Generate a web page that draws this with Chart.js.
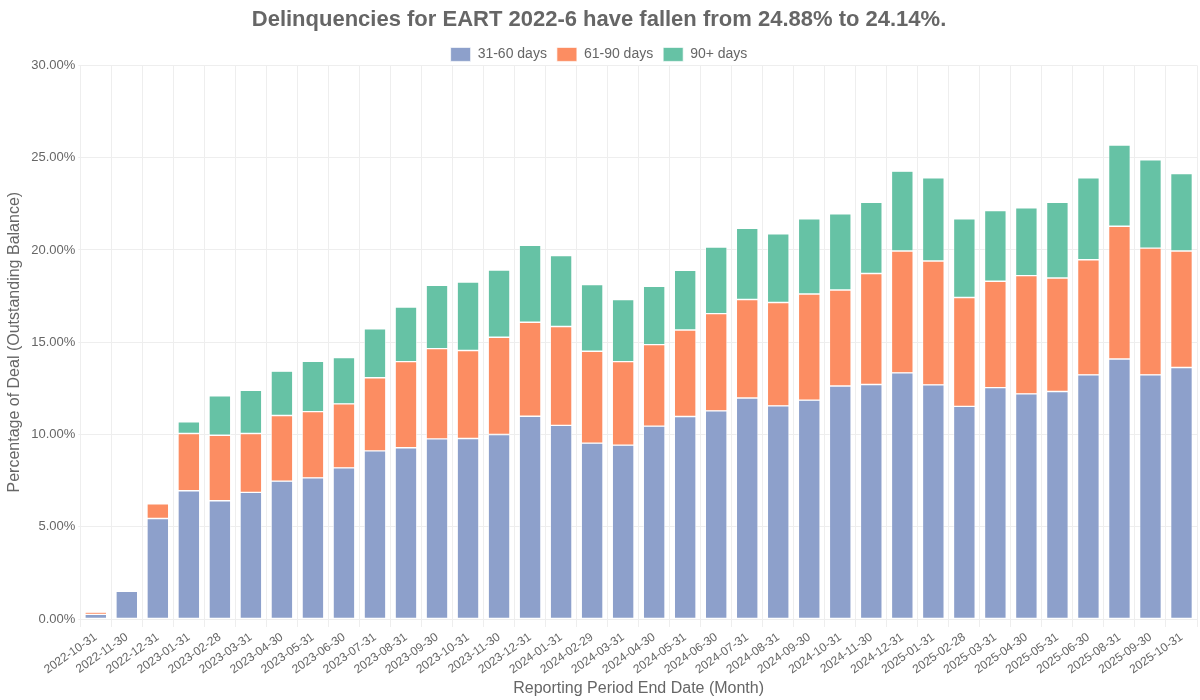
<!DOCTYPE html>
<html>
<head>
<meta charset="utf-8">
<script src="https://cdn.jsdelivr.net/npm/chart.js@4.4.1/dist/chart.umd.min.js"></script>
<style>
  html, body { margin: 0; padding: 0; background: #ffffff; }
  #wrap { width: 1200px; height: 700px; }
</style>
</head>
<body>
<div id="wrap"><canvas id="c" width="1200" height="700"></canvas></div>
<script>
const categories = [
  "2022-10-31","2022-11-30","2022-12-31","2023-01-31","2023-02-28","2023-03-31",
  "2023-04-30","2023-05-31","2023-06-30","2023-07-31","2023-08-31","2023-09-30",
  "2023-10-31","2023-11-30","2023-12-31","2024-01-31","2024-02-29","2024-03-31",
  "2024-04-30","2024-05-31","2024-06-30","2024-07-31","2024-08-31","2024-09-30",
  "2024-10-31","2024-11-30","2024-12-31","2025-01-31","2025-02-28","2025-03-31",
  "2025-04-30","2025-05-31","2025-06-30","2025-08-31","2025-09-30","2025-10-31"
];
const days31to60 = [
  0.25, 1.50, 5.45, 6.95, 6.41, 6.86,
  7.47, 7.65, 8.19, 9.11, 9.28, 9.76,
  9.78, 10.00, 10.99, 10.49, 9.53, 9.42,
  10.45, 10.97, 11.28, 11.98, 11.55, 11.86,
  12.63, 12.71, 13.34, 12.69, 11.52, 12.54,
  12.20, 12.33, 13.23, 14.09, 13.23, 13.63
];
const days61to90 = [
  0.12, 0.00, 0.79, 3.10, 3.55, 3.19,
  3.56, 3.59, 3.47, 3.96, 4.67, 4.89,
  4.77, 5.27, 5.09, 5.36, 4.98, 4.53,
  4.42, 4.69, 5.27, 5.33, 5.60, 5.75,
  5.20, 6.01, 6.60, 6.71, 5.90, 5.76,
  6.41, 6.15, 6.24, 7.19, 6.87, 6.31
];
const days90plus = [
  0.05, 0.00, 0.00, 0.63, 2.13, 2.35,
  2.40, 2.73, 2.51, 2.65, 2.96, 3.43,
  3.71, 3.64, 4.17, 3.84, 3.61, 3.36,
  3.16, 3.24, 3.61, 3.86, 3.73, 4.08,
  4.13, 3.86, 4.33, 4.51, 4.27, 3.84,
  3.68, 4.10, 4.44, 4.40, 4.78, 4.20
];
const yTicks = [0, 5, 10, 15, 20, 25, 30];
const seriesNames = ["31-60 days", "61-90 days", "90+ days"];
const titleText = "Delinquencies for EART 2022-6 have fallen from 24.88% to 24.14%.";
const yTitle = "Percentage of Deal (Outstanding Balance)";
const xTitle = "Reporting Period End Date (Month)";

const colors = ["#8da0cb", "#fc8d62", "#66c2a5"];
const txt = "#666666";
const fam = "'Liberation Sans', Arial, sans-serif";

const mk = (i, data) => ({
  label: seriesNames[i],
  data: data,
  backgroundColor: colors[i],
  borderColor: "#ffffff",
  borderWidth: 0.7,
  borderSkipped: false,
  categoryPercentage: 0.9,
  barPercentage: 0.78
});

const legendTighten = {
  id: "legendTighten",
  beforeInit(chart) {
    const orig = chart.legend.fit;
    chart.legend.fit = function () {
      orig.bind(chart.legend)();
      this.height -= 6;
    };
  }
};

new Chart(document.getElementById("c"), {
  type: "bar",
  data: {
    labels: categories,
    datasets: [mk(0, days31to60), mk(1, days61to90), mk(2, days90plus)]
  },
  plugins: [legendTighten],
  options: {
    responsive: false,
    devicePixelRatio: 1,
    animation: false,
    layout: { padding: { left: 1, right: 3, top: 3, bottom: 0 } },
    plugins: {
      title: {
        display: true,
        text: titleText,
        color: txt,
        font: { family: fam, size: 22, weight: "bold" },
        padding: { top: 4, bottom: 4 }
      },
      legend: {
        position: "top",
        labels: {
          color: txt,
          font: { family: fam, size: 14 },
          boxWidth: 20,
          boxHeight: 14,
          padding: 10
        }
      },
      tooltip: { enabled: false }
    },
    scales: {
      x: {
        stacked: true,
        grid: { color: "#eeeeee", tickLength: 8 },
        border: { display: false },
        afterFit: (axis) => { axis.height = 81; },
        ticks: {
          color: txt,
          font: { family: fam, size: 12 },
          minRotation: 35,
          maxRotation: 35,
          autoSkip: false
        },
        title: {
          display: true,
          text: xTitle,
          color: txt,
          font: { family: fam, size: 16 },
          padding: { top: 2, bottom: 2 }
        }
      },
      y: {
        stacked: true,
        min: 0,
        max: 30,
        grid: { color: "#eeeeee", tickLength: 2 },
        border: { display: false },
        afterBuildTicks: (axis) => { axis.ticks = yTicks.map(v => ({ value: v })); },
        ticks: {
          color: txt,
          font: { family: fam, size: 13 },
          callback: (v) => Number(v).toFixed(2) + "%"
        },
        title: {
          display: true,
          text: yTitle,
          color: txt,
          font: { family: fam, size: 16 }
        }
      }
    }
  }
});
</script>
</body>
</html>
